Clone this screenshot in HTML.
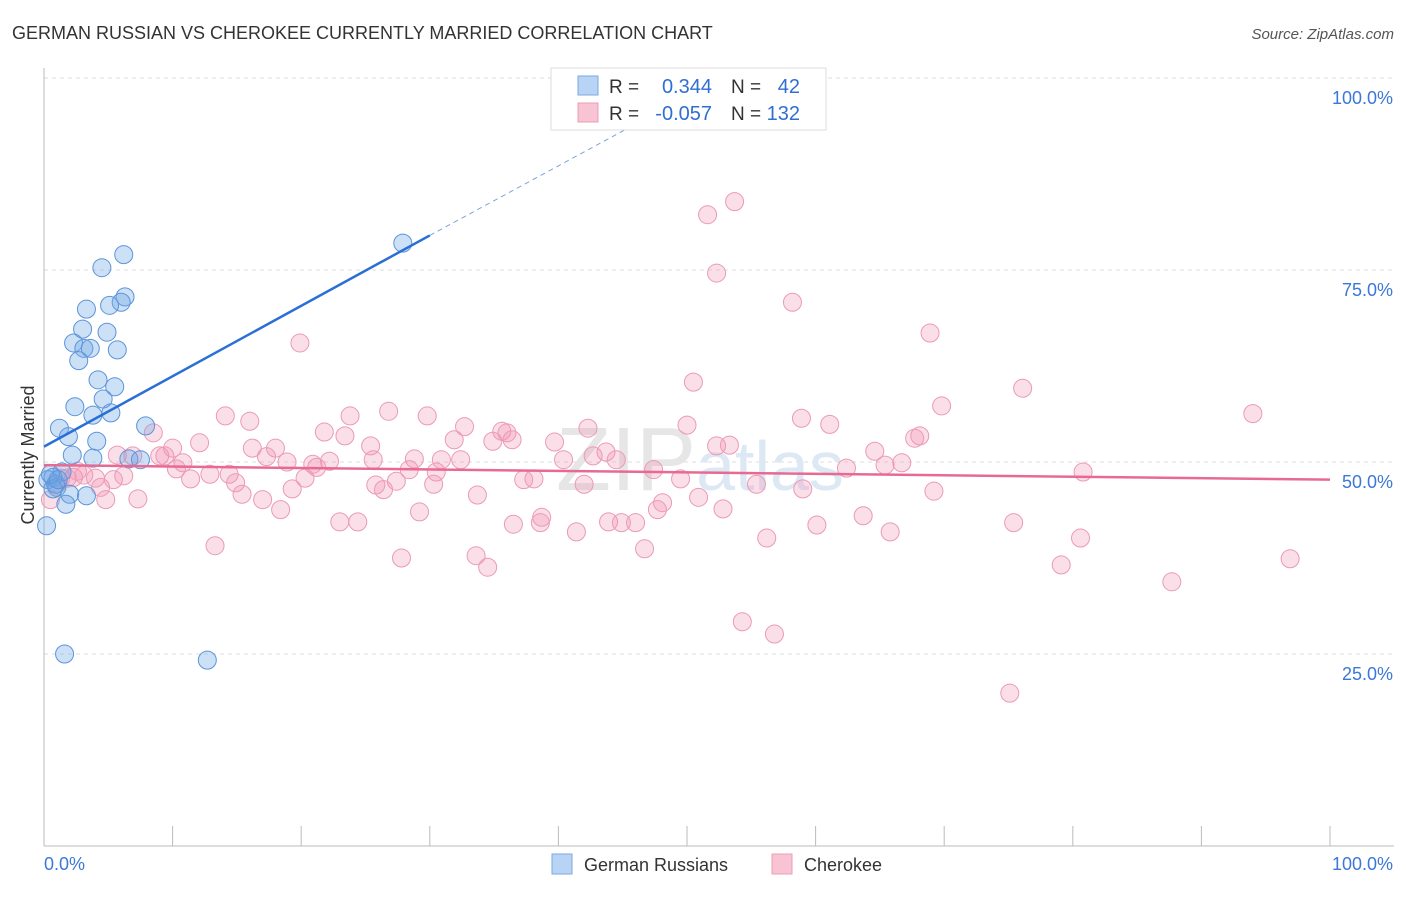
<!DOCTYPE html>
<html><head><meta charset="utf-8"><style>
body{margin:0;background:#fff;font-family:"Liberation Sans",sans-serif;}
svg text{font-family:"Liberation Sans",sans-serif;}
</style></head><body>
<svg id="chart" width="1406" height="892" viewBox="0 0 1406 892" xmlns="http://www.w3.org/2000/svg">
<text x="12" y="39" font-size="18" fill="#333">GERMAN RUSSIAN VS CHEROKEE CURRENTLY MARRIED CORRELATION CHART</text>
<text x="1394" y="39" font-size="15" fill="#555" font-style="italic" text-anchor="end">Source: ZipAtlas.com</text>
<g id="grid"></g>
<text x="700" y="490" font-size="90" fill="#e6e6e6" text-anchor="middle" font-family="Liberation Serif">ZIP<tspan fill="#dde8f5" font-family="Liberation Sans" font-size="70">atlas</tspan></text>
<text x="34" y="455" font-size="18" fill="#333" text-anchor="middle" transform="rotate(-90 34 455)">Currently Married</text>
<g id="pts"></g>
<g id="lines"></g>
<g>
<rect x="551" y="68" width="275" height="62" fill="#fff" stroke="#ddd"/>
<rect x="578" y="76" width="20" height="19" fill="#b8d3f3" stroke="#7aaae6"/>
<rect x="578" y="103" width="20" height="19" fill="#f8c4d4" stroke="#ec9db7"/>
<text x="609" y="93" font-size="19" fill="#333">R = </text><text x="712" y="93" font-size="20" fill="#2f6fd0" text-anchor="end">0.344</text>
<text x="731" y="93" font-size="19" fill="#333">N = </text><text x="800" y="93" font-size="20" fill="#2f6fd0" text-anchor="end">42</text>
<text x="609" y="120" font-size="19" fill="#333">R = </text><text x="712" y="120" font-size="20" fill="#2f6fd0" text-anchor="end">-0.057</text>
<text x="731" y="120" font-size="19" fill="#333">N = </text><text x="800" y="120" font-size="20" fill="#2f6fd0" text-anchor="end">132</text>
</g>
<g>
<rect x="552" y="854" width="20" height="20" fill="#b8d3f3" stroke="#7aaae6"/>
<text x="584" y="871" font-size="18" fill="#333">German Russians</text>
<rect x="772" y="854" width="20" height="20" fill="#f8c4d4" stroke="#ec9db7"/>
<text x="804" y="871" font-size="18" fill="#333">Cherokee</text>
</g>
</svg>
<script>
const yTicks=[25,50,75,100];
const yTickLabels=["25.0%","50.0%","75.0%","100.0%"];
const xTickLabels=["0.0%","100.0%"];
const blueX=[6.2,4.5,6.3,6.0,5.1,3.3,3.0,4.9,2.3,3.1,3.6,5.7,2.7,4.2,5.5,4.6,2.4,3.8,5.2,1.2,7.9,1.9,4.1,2.2,3.8,6.6,7.5,1.4,0.7,0.3,0.9,1.0,0.7,2.0,3.3,1.7,0.2,1.6,12.7,27.9,0.5,1.1];
const blueY=[77,75.3,71.5,70.8,70.4,69.9,67.3,66.9,65.5,64.8,64.8,64.6,63.2,60.7,59.8,58.2,57.2,56.1,56.4,54.4,54.7,53.3,52.7,50.9,50.5,50.4,50.3,48.7,48.0,47.7,47.1,46.7,46.5,45.8,45.6,44.5,41.7,25.0,24.2,78.5,48.4,47.7];
const pinkX=[
53.7,51.6,52.3,58.2,68.9,19.9,50.5,76.1,69.8,94.0,
26.8,14.1,23.8,29.8,16.0,58.9,61.1,32.7,42.3,35.6,
36.0,50.0,21.8,8.5,23.4,31.9,34.9,36.4,39.7,25.4,
52.3,53.3,68.1,67.7,64.6,12.1,18.0,16.2,10.0,5.7,
6.9,9.0,9.4,10.8,17.3,18.9,20.9,22.2,21.2,25.6,
28.8,30.9,32.4,40.4,42.7,43.7,44.5,65.4,66.7,62.4,
80.8,10.3,12.9,14.4,11.4,20.3,28.4,30.5,47.4,49.5,
37.3,38.1,4.0,2.3,1.3,6.2,5.4,4.4,14.9,15.4,
19.3,25.8,27.4,30.3,33.7,26.4,42.0,48.1,50.9,55.4,
59.0,69.2,17.0,18.4,4.8,7.3,29.2,38.7,47.7,52.8,
63.7,23.0,24.4,36.5,38.6,43.9,44.9,46.0,60.1,65.8,
75.4,41.4,56.2,80.6,13.3,46.7,33.6,34.5,27.8,79.1,
96.9,87.7,54.3,56.8,75.1,3.1,2.6,1.8,0.5,1.0];
const pinkY=[
83.9,82.2,74.6,70.8,66.8,65.5,60.4,59.6,57.3,56.3,
56.6,56.0,56.0,56.0,55.3,55.7,54.9,54.6,54.4,54.0,
53.8,54.8,53.9,53.8,53.4,52.9,52.7,52.9,52.6,52.1,
52.1,52.2,53.4,53.1,51.4,52.5,51.8,51.8,51.8,50.9,
50.8,50.8,50.8,49.9,50.7,50.0,49.7,50.1,49.3,50.3,
50.4,50.3,50.3,50.3,50.8,51.3,50.3,49.6,49.9,49.2,
48.7,49.1,48.4,48.4,47.8,47.9,49.0,48.7,49.0,47.8,
47.7,47.8,47.9,48.0,47.9,48.2,47.7,46.7,47.3,45.8,
46.5,47.0,47.5,47.1,45.7,46.4,47.1,44.7,45.4,47.1,
46.5,46.2,45.1,43.8,45.1,45.2,43.5,42.8,43.8,43.9,
43.0,42.2,42.2,41.9,42.1,42.2,42.1,42.1,41.8,40.9,
42.1,40.9,40.1,40.1,39.1,38.7,37.8,36.3,37.5,36.6,
37.4,34.4,29.2,27.6,19.9,48.3,48.8,47.9,45.1,47.1];
const blueLine=[0,52,30,79.5];
const blueDash=[30,79.5,46,94];
const pinkLine=[0,49.6,100,47.7];
const X0=44,X1=1330,Y0=846,Y100=78;
const sx=v=>X0+(X1-X0)*v/100, sy=v=>Y0-(Y0-Y100)*v/100;
const NS="http://www.w3.org/2000/svg";
function mk(tag,attrs,parent){const e=document.createElementNS(NS,tag);for(const k in attrs)e.setAttribute(k,attrs[k]);parent.appendChild(e);return e;}
const grid=document.getElementById('grid'),svg=document.getElementById('chart');
yTicks.forEach((t,i)=>{
 const g=mk('line',{x1:X0,x2:1394,y1:sy(t),y2:sy(t),stroke:'#ddd','stroke-dasharray':'4,4'},grid);
 
 
 const tx=mk('text',{x:1393,y:sy(t)+26,'font-size':18,fill:'#3b78d8','text-anchor':'end'},grid);
 tx.textContent=yTickLabels[i];
 
 
});
const ax=mk('line',{x1:X0,x2:X0,y1:68,y2:Y0,stroke:'#bbb'},grid);


const bx=mk('line',{x1:X0,x2:1394,y1:Y0,y2:Y0,stroke:'#bbb'},grid);


for(let i=1;i<=10;i++){const t=mk('line',{x1:sx(i*10),x2:sx(i*10),y1:826,y2:Y0,stroke:'#bbb'},grid);
 
 }
[[X0,'start',0],[1393,'end',1]].forEach(([x,a,i])=>{const t=mk('text',{x:x,y:870,'font-size':18,fill:'#3b78d8','text-anchor':a},grid);t.textContent=xTickLabels[i];
 
 });
const pts=document.getElementById('pts');
pinkX.forEach((x,i)=>{const c=mk('circle',{cx:sx(x),cy:sy(pinkY[i]),r:9,fill:'rgba(242,150,180,0.3)',stroke:'#eb9ab5','stroke-width':1},pts);
 
 });
blueX.forEach((x,i)=>{const c=mk('circle',{cx:sx(x),cy:sy(blueY[i]),r:9,fill:'rgba(110,165,230,0.35)',stroke:'#5d94da','stroke-width':1},pts);
 
 });
const L=document.getElementById('lines');
const l1=mk('line',{x1:sx(blueLine[0]),y1:sy(blueLine[1]),x2:sx(blueLine[2]),y2:sy(blueLine[3]),stroke:'#2a6fd6','stroke-width':2.5},L);


const l2=mk('line',{x1:sx(blueDash[0]),y1:sy(blueDash[1]),x2:sx(blueDash[2]),y2:sy(blueDash[3]),stroke:'#7aa4dd','stroke-width':1,'stroke-dasharray':'5,4'},L);


const l3=mk('line',{x1:sx(pinkLine[0]),y1:sy(pinkLine[1]),x2:sx(pinkLine[2]),y2:sy(pinkLine[3]),stroke:'#e86a93','stroke-width':2.5},L);


</script>
</body></html>
